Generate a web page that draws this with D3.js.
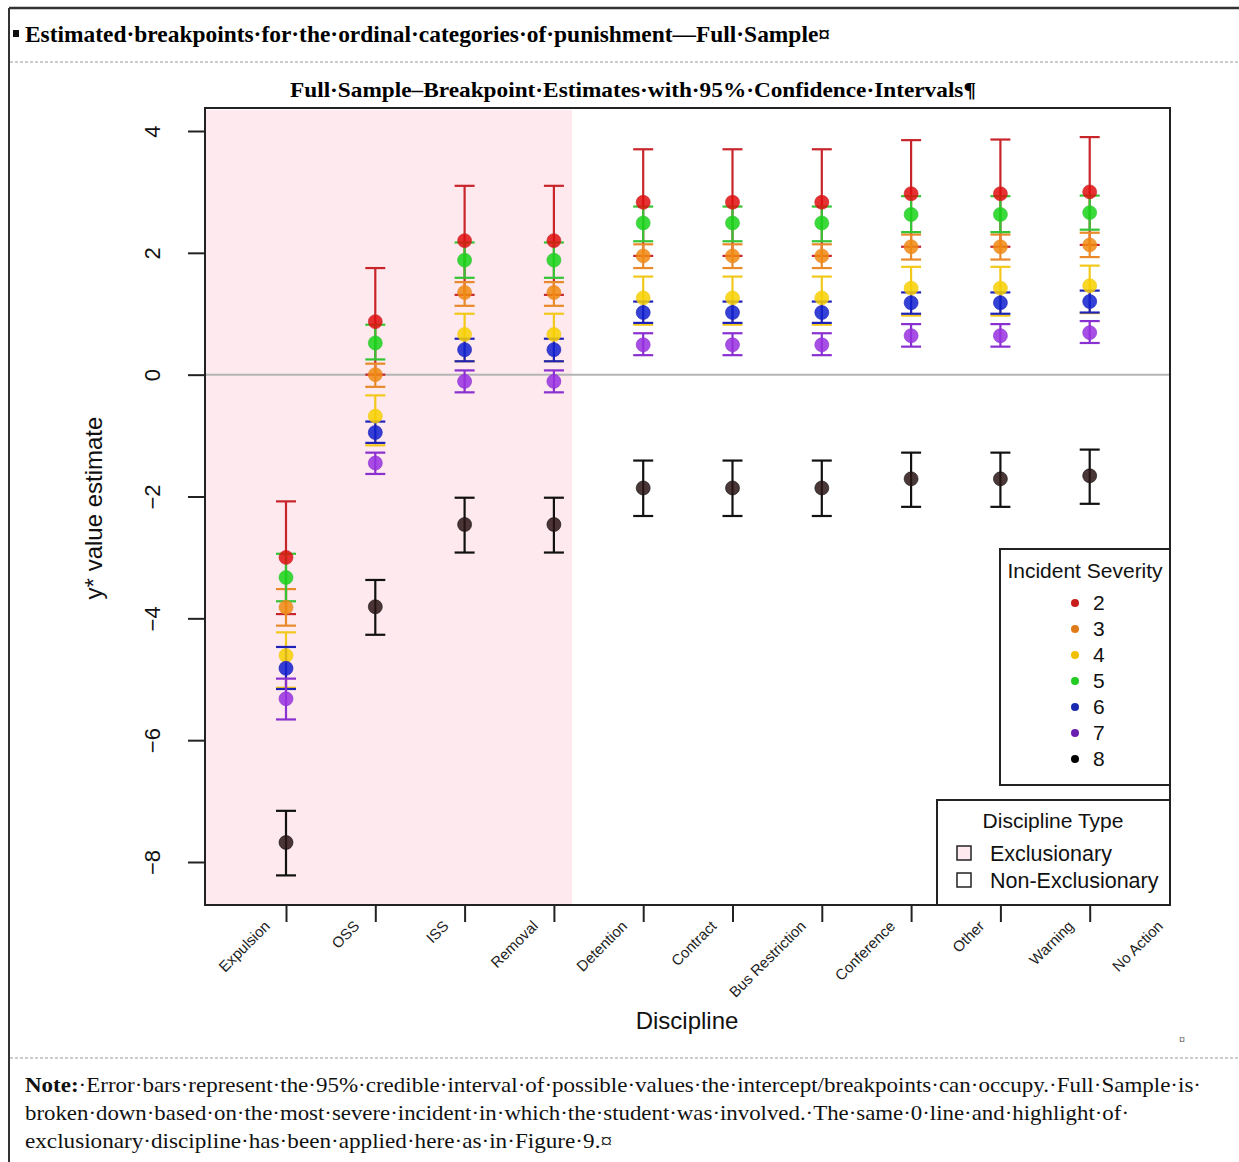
<!DOCTYPE html>
<html>
<head>
<meta charset="utf-8">
<script src="https://cdn.jsdelivr.net/npm/d3@7"></script>
<style>
  body { margin: 0; background: #fff; }
  svg { display: block; }
</style>
</head>
<body>
<div id="chart"></div>
<script>
// Disciplines (x axis), the last one is the reference category with no breakpoint
const disciplines = ["Expulsion", "OSS", "ISS", "Removal", "Detention", "Contract",
  "Bus Restriction", "Conference", "Other", "Warning", "No Action"];
const severities = ["2", "3", "4", "5", "6", "7", "8"];
const yTicks = [4, 2, 0, -2, -4, -6, -8];

// breakpoint estimates per incident severity (one value per discipline, No Action excluded)
const est2 = [-3.00, 0.87, 2.20, 2.20, 2.83, 2.83, 2.83, 2.97, 2.97, 3.00];
const lo2  = [-3.93, 0.00, 1.31, 1.31, 1.95, 1.95, 1.95, 2.10, 2.10, 2.13];
const hi2  = [-2.08, 1.75, 3.10, 3.10, 3.70, 3.70, 3.70, 3.85, 3.86, 3.90];

const est3 = [-3.82, 0.00, 1.35, 1.35, 1.95, 1.95, 1.95, 2.10, 2.10, 2.13];
const lo3  = [-4.12, -0.20, 1.13, 1.13, 1.75, 1.75, 1.75, 1.89, 1.89, 1.93];
const hi3  = [-3.52, 0.18, 1.52, 1.52, 2.14, 2.14, 2.14, 2.30, 2.30, 2.33];

const est4 = [-4.61, -0.68, 0.66, 0.66, 1.26, 1.26, 1.26, 1.42, 1.42, 1.46];
const lo4  = [-5.14, -1.16, 0.22, 0.22, 0.82, 0.82, 0.82, 0.97, 0.97, 1.01];
const hi4  = [-4.23, -0.34, 1.00, 1.00, 1.61, 1.61, 1.61, 1.77, 1.77, 1.79];

const est5 = [-3.33, 0.52, 1.88, 1.88, 2.49, 2.49, 2.49, 2.63, 2.63, 2.66];
const lo5  = [-3.72, 0.25, 1.59, 1.59, 2.19, 2.19, 2.19, 2.34, 2.34, 2.38];
const hi5  = [-2.94, 0.82, 2.17, 2.17, 2.76, 2.76, 2.76, 2.93, 2.93, 2.94];

const est6 = [-4.82, -0.95, 0.41, 0.41, 1.02, 1.02, 1.02, 1.18, 1.18, 1.20];
const lo6  = [-5.16, -1.12, 0.22, 0.22, 0.85, 0.85, 0.85, 1.00, 1.00, 1.02];
const hi6  = [-4.47, -0.77, 0.59, 0.59, 1.20, 1.20, 1.20, 1.35, 1.35, 1.38];

const est7 = [-5.32, -1.45, -0.11, -0.11, 0.49, 0.49, 0.49, 0.64, 0.64, 0.69];
const lo7  = [-5.66, -1.63, -0.29, -0.29, 0.32, 0.32, 0.32, 0.46, 0.46, 0.52];
const hi7  = [-4.99, -1.28, 0.07, 0.07, 0.68, 0.68, 0.68, 0.83, 0.83, 0.88];

const est8 = [-7.68, -3.81, -2.46, -2.46, -1.86, -1.86, -1.86, -1.71, -1.71, -1.66];
const lo8  = [-8.22, -4.27, -2.92, -2.92, -2.32, -2.32, -2.32, -2.17, -2.17, -2.12];
const hi8  = [-7.16, -3.37, -2.02, -2.02, -1.41, -1.41, -1.41, -1.28, -1.28, -1.23];

const disciplineTypes = ["Exclusionary", "Non-Exclusionary"];
const nExclusionary = 4;

const estimates = [est2, est3, est4, est5, est6, est7, est8];
const lows = [lo2, lo3, lo4, lo5, lo6, lo7, lo8];
const highs = [hi2, hi3, hi4, hi5, hi6, hi7, hi8];

const barColors = ["#c8252a", "#e8892a", "#f2c81a", "#35c435", "#1f22b8", "#8a2fd0", "#111111"];
const dotColors = ["#e00d0d", "#f08a10", "#f7d000", "#16d416", "#1020d0", "#9830e0", "#2a1414"];
const legendColors = ["#c81d1d", "#e07b1a", "#f0c000", "#22cc22", "#1a2ab0", "#6a1fb0", "#000000"];

const W = 1239, H = 1162;
const box = { left: 205, right: 1170, top: 108, bottom: 905 };

const svg = d3.select("#chart").append("svg")
    .attr("width", W)
    .attr("height", H);

// ---- document frame ----
svg.append("line").attr("x1", 9).attr("x2", W).attr("y1", 8).attr("y2", 8)
  .attr("stroke", "#333").attr("stroke-width", 2.5);
svg.append("line").attr("x1", 9).attr("x2", 9).attr("y1", 8).attr("y2", H)
  .attr("stroke", "#333").attr("stroke-width", 2);
[62, 1058].forEach(yy => {
  svg.append("line").attr("x1", 10).attr("x2", W).attr("y1", yy).attr("y2", yy)
    .attr("stroke", "#999").attr("stroke-width", 1).attr("stroke-dasharray", "3,2");
});

svg.append("rect").attr("x", 13).attr("y", 30).attr("width", 6).attr("height", 7).attr("fill", "#111");
svg.append("text")
  .attr("x", 25).attr("y", 42)
  .attr("font-family", "Liberation Serif").attr("font-weight", "bold").attr("font-size", 23)
  .attr("textLength", 805).attr("lengthAdjust", "spacingAndGlyphs")
  .text("Estimated·breakpoints·for·the·ordinal·categories·of·punishment—Full·Sample¤");

svg.append("text")
  .attr("x", 290).attr("y", 97)
  .attr("font-family", "Liberation Serif").attr("font-weight", "bold").attr("font-size", 22)
  .attr("textLength", 686).attr("lengthAdjust", "spacingAndGlyphs")
  .text("Full·Sample–Breakpoint·Estimates·with·95%·Confidence·Intervals¶");

// ---- scales ----
const x = d3.scaleLinear().domain([0, disciplines.length - 1]).range([286, 1179]);
const y = d3.scaleLinear().domain([-8, 4]).range([862, 131]);

const plot = svg.append("g");

// exclusionary highlight
plot.append("rect")
  .attr("x", box.left + 1)
  .attr("y", box.top + 2)
  .attr("width", x(nExclusionary - 0.81) - box.left)
  .attr("height", box.bottom - box.top - 3)
  .attr("fill", "#fde9ee");

// zero line
plot.append("line")
  .attr("x1", box.left).attr("x2", box.right)
  .attr("y1", y(0)).attr("y2", y(0))
  .attr("stroke", "#b4b4b4").attr("stroke-width", 2);

// error bars
const capW = 10;
severities.forEach((s, si) => {
  const rows = estimates[si].map((v, i) => ({ i, v, lo: lows[si][i], hi: highs[si][i] }));
  const g = plot.append("g").attr("stroke", barColors[si]).attr("stroke-width", 2.2);
  g.selectAll("line.v").data(rows).join("line").attr("class", "v")
    .attr("x1", d => x(d.i)).attr("x2", d => x(d.i))
    .attr("y1", d => y(d.lo)).attr("y2", d => y(d.hi));
  g.selectAll("line.hi").data(rows).join("line").attr("class", "hi")
    .attr("x1", d => x(d.i) - capW).attr("x2", d => x(d.i) + capW)
    .attr("y1", d => y(d.hi)).attr("y2", d => y(d.hi));
  g.selectAll("line.lo").data(rows).join("line").attr("class", "lo")
    .attr("x1", d => x(d.i) - capW).attr("x2", d => x(d.i) + capW)
    .attr("y1", d => y(d.lo)).attr("y2", d => y(d.lo));
});

// points
severities.forEach((s, si) => {
  plot.append("g").selectAll("circle")
    .data(estimates[si])
    .join("circle")
    .attr("cx", (d, i) => x(i))
    .attr("cy", d => y(d))
    .attr("r", 7)
    .attr("fill", dotColors[si])
    .attr("fill-opacity", 0.85)
    .attr("stroke", barColors[si])
    .attr("stroke-opacity", 0.6)
    .attr("stroke-width", 1);
});

// box
svg.append("rect")
  .attr("x", box.left).attr("y", box.top)
  .attr("width", box.right - box.left).attr("height", box.bottom - box.top)
  .attr("fill", "none").attr("stroke", "#222").attr("stroke-width", 2);

// ---- y axis ----
const yAxis = svg.append("g")
  .attr("transform", `translate(${box.left},0)`)
  .call(d3.axisLeft(y).tickValues(yTicks).tickSize(17).tickFormat(d3.format("d")));
yAxis.select(".domain").remove();
yAxis.selectAll(".tick line").attr("stroke", "#222").attr("stroke-width", 2);
yAxis.selectAll(".tick text")
  .attr("transform", "rotate(-90)")
  .attr("x", 0).attr("y", -45).attr("dy", 0)
  .attr("text-anchor", "middle")
  .attr("font-family", "Liberation Sans").attr("font-size", 22).attr("fill", "#111");

svg.append("text")
  .attr("transform", "translate(102,508) rotate(-90)")
  .attr("text-anchor", "middle")
  .attr("font-family", "Liberation Sans").attr("font-size", 24).attr("fill", "#111")
  .text("y* value estimate");

// ---- x axis ----
const xAxis = svg.append("g")
  .attr("transform", `translate(0,${box.bottom})`)
  .call(d3.axisBottom(x).tickValues(d3.range(disciplines.length - 1)).tickSize(17).tickFormat(""));
xAxis.select(".domain").remove();
xAxis.selectAll(".tick line").attr("stroke", "#222").attr("stroke-width", 2);

svg.append("g").selectAll("text")
  .data(disciplines)
  .join("text")
  .attr("transform", (d, i) => `translate(${x(i) - 15},${box.bottom + 22}) rotate(-45)`)
  .attr("text-anchor", "end")
  .attr("font-family", "Liberation Sans").attr("font-size", 15).attr("fill", "#222")
  .text(d => d);

svg.append("text")
  .attr("x", 687).attr("y", 1029)
  .attr("text-anchor", "middle")
  .attr("font-family", "Liberation Sans").attr("font-size", 24).attr("fill", "#111")
  .text("Discipline");

// ---- legend: incident severity ----
const leg1 = svg.append("g");
leg1.append("rect")
  .attr("x", 1000).attr("y", 549).attr("width", box.right - 1000).attr("height", 236)
  .attr("fill", "#fff").attr("stroke", "#222").attr("stroke-width", 2);
leg1.append("text")
  .attr("x", 1085).attr("y", 578)
  .attr("text-anchor", "middle")
  .attr("font-family", "Liberation Sans").attr("font-size", 21).attr("fill", "#111")
  .text("Incident Severity");
const item1 = leg1.selectAll("g.item").data(severities).join("g").attr("class", "item")
  .attr("transform", (d, i) => `translate(1075,${603 + i * 26})`);
item1.append("circle").attr("r", 4).attr("fill", (d, i) => legendColors[i]);
item1.append("text")
  .attr("x", 18).attr("y", 7)
  .attr("font-family", "Liberation Sans").attr("font-size", 21).attr("fill", "#111")
  .text(d => d);

// ---- legend: discipline type ----
const leg2 = svg.append("g");
leg2.append("rect")
  .attr("x", 937).attr("y", 800).attr("width", box.right - 937).attr("height", box.bottom - 800)
  .attr("fill", "#fff").attr("stroke", "#222").attr("stroke-width", 2);
leg2.append("text")
  .attr("x", 1053).attr("y", 828)
  .attr("text-anchor", "middle")
  .attr("font-family", "Liberation Sans").attr("font-size", 21).attr("fill", "#111")
  .text("Discipline Type");
const item2 = leg2.selectAll("g.item").data(disciplineTypes).join("g").attr("class", "item")
  .attr("transform", (d, i) => `translate(957,${853 + i * 27})`);
item2.append("rect")
  .attr("x", 0).attr("y", -7).attr("width", 14).attr("height", 14)
  .attr("fill", (d, i) => i === 0 ? "#fde9ee" : "#fff")
  .attr("stroke", "#222").attr("stroke-width", 1.5);
item2.append("text")
  .attr("x", 33).attr("y", 8)
  .attr("font-family", "Liberation Sans").attr("font-size", 21.5).attr("fill", "#111")
  .text(d => d);

svg.append("text").attr("x", 1179).attr("y", 1044)
  .attr("font-family", "Liberation Serif").attr("font-size", 12).attr("fill", "#333").text("¤");

// ---- note ----
const noteLines = [
  ["Note:", "·Error·bars·represent·the·95%·credible·interval·of·possible·values·the·intercept/breakpoints·can·occupy.·Full·Sample·is·"],
  ["", "broken·down·based·on·the·most·severe·incident·in·which·the·student·was·involved.·The·same·0·line·and·highlight·of·"],
  ["", "exclusionary·discipline·has·been·applied·here·as·in·Figure·9.¤"]
];
const noteWidths = [1176, 1104, 587];
noteLines.forEach((ln, i) => {
  const t = svg.append("text")
    .attr("x", 25).attr("y", 1092 + i * 28)
    .attr("font-family", "Liberation Serif").attr("font-size", 21).attr("fill", "#111")
    .attr("textLength", noteWidths[i]).attr("lengthAdjust", "spacingAndGlyphs");
  if (ln[0]) t.append("tspan").attr("font-weight", "bold").text(ln[0]);
  t.append("tspan").text(ln[1]);
});
</script>
</body>
</html>
